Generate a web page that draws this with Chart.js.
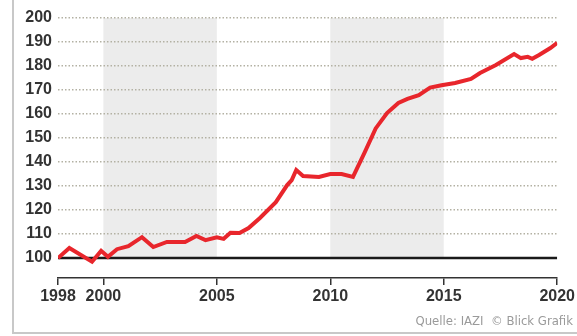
<!DOCTYPE html>
<html lang="de">
<head>
    <meta charset="UTF-8">
    <title>Immobilienpreise Index</title>
    <script src="https://cdn.jsdelivr.net/npm/chart.js"></script>
    <style>
        html, body { margin: 0; padding: 0; background: #fff; }
        #wrap { width: 577px; height: 336px; }
    </style>
</head>
<body>
    <div id="wrap"><canvas id="indexChart" width="577" height="336"></canvas></div>

    <script>
        // Index 1998 = 100
        const years = [1998, 1998.5, 1999.5, 1999.9, 2000.2, 2000.6, 2001.1, 2001.7, 2002.2, 2002.8,
            2003.6, 2004.1, 2004.5, 2005.0, 2005.3, 2005.6, 2006.0, 2006.4, 2006.9, 2007.6,
            2008.1, 2008.3, 2008.5, 2008.8, 2009.5, 2010.0, 2010.5, 2011.0, 2011.5, 2012.0,
            2012.5, 2013.0, 2013.4, 2013.9, 2014.4, 2014.9, 2015.5, 2016.2, 2016.6, 2017.3,
            2018.1, 2018.4, 2018.7, 2018.9, 2019.2, 2019.7, 2020.0];
        const values = [100, 104.2, 98.5, 103, 100.5, 103.7, 105, 108.7, 104.6, 106.7,
            106.7, 109.2, 107.5, 108.7, 108, 110.5, 110.4, 112.5, 116.7, 123.3,
            130.4, 132.5, 136.7, 134.2, 133.8, 135, 135, 133.8, 143.7, 154,
            160.4, 164.6, 166.3, 167.9, 171, 172, 172.9, 174.6, 177.1, 180.4,
            185, 183.3, 183.8, 183, 184.6, 187.5, 189.6];

        const xTicks = [1998, 2000, 2005, 2010, 2015, 2020];
        const yTicks = [100, 110, 120, 130, 140, 150, 160, 170, 180, 190, 200];
        const bandStart = [2000, 2010];
        const bandEnd = [2005, 2015];
        const baseYears = [1998, 2020];
        const baseValues = [100, 100];
        const source = "Quelle: IAZI  \u00A9 Blick Grafik";

        const labelFont = { family: "'Liberation Sans', Arial, sans-serif", size: 16, weight: "bold" };

        // grey shaded periods + frame + source line
        const decor = {
            id: "decor",
            beforeDraw(chart) {
                const { ctx, scales: { x, y } } = chart;
                ctx.save();
                ctx.fillStyle = "#fff";
                ctx.fillRect(0, 0, chart.width, chart.height);
                ctx.fillStyle = "#ececec";
                bandStart.forEach((s, i) => {
                    const x0 = x.getPixelForValue(s), x1 = x.getPixelForValue(bandEnd[i]);
                    const y0 = y.getPixelForValue(200), y1 = y.getPixelForValue(100);
                    ctx.fillRect(x0, y0, x1 - x0, y1 - y0);
                });
                ctx.restore();
            },
            afterDraw(chart) {
                const ctx = chart.ctx;
                ctx.save();
                ctx.strokeStyle = "#c8c8c8";
                ctx.lineWidth = 2;
                ctx.beginPath();
                ctx.moveTo(13, 0);
                ctx.lineTo(13, 333);
                ctx.lineTo(577, 333);
                ctx.stroke();
                ctx.fillStyle = "#9a9a9a";
                ctx.font = "13px 'Liberation Sans Narrow', 'DejaVu Sans Condensed', sans-serif";
                ctx.textAlign = "right";
                ctx.textBaseline = "middle";
                ctx.fillText(source, 573, 322);
                ctx.restore();
            }
        };

        new Chart(document.getElementById("indexChart"), {
            type: "line",
            data: {
                datasets: [
                    {
                        data: years.map((yr, i) => ({ x: yr, y: values[i] })),
                        borderColor: "#e8262c",
                        borderWidth: 4,
                        pointRadius: 0,
                        tension: 0,
                        order: 1
                    },
                    {
                        data: baseYears.map((yr, i) => ({ x: yr, y: baseValues[i] })),
                        borderColor: "#1a1a1a",
                        borderWidth: 2.5,
                        pointRadius: 0,
                        order: 2
                    }
                ]
            },
            options: {
                responsive: false,
                animation: false,
                layout: { padding: { left: 0, right: 15, top: 18, bottom: 0 } },
                plugins: { legend: { display: false }, tooltip: { enabled: false } },
                scales: {
                    x: {
                        type: "linear",
                        min: 1998,
                        max: 2020,
                        afterBuildTicks: s => { s.ticks = xTicks.map(v => ({ value: v })); },
                        afterFit: s => { s.height = 58; },
                        ticks: { color: "#333", font: labelFont, padding: 2, maxRotation: 0, callback: v => String(v) },
                        grid: { drawOnChartArea: false, drawTicks: true, tickLength: 7, color: "#333", lineWidth: 1.5 },
                        border: { display: true, color: "#333", width: 1.5 }
                    },
                    y: {
                        min: 91.7,
                        max: 200,
                        afterBuildTicks: s => { s.ticks = yTicks.map(v => ({ value: v })); },
                        afterFit: s => { s.width = 58; },
                        ticks: { color: "#333", font: labelFont, padding: 6 },
                        grid: {
                            drawTicks: false,
                            lineWidth: 1.5,
                            color: c => (c.tick && c.tick.value === 100) ? "rgba(0,0,0,0)" : "#b3b1a3"
                        },
                        border: { display: false, dash: [1.5, 2] }
                    }
                }
            },
            plugins: [decor]
        });
    </script>
</body>
</html>
